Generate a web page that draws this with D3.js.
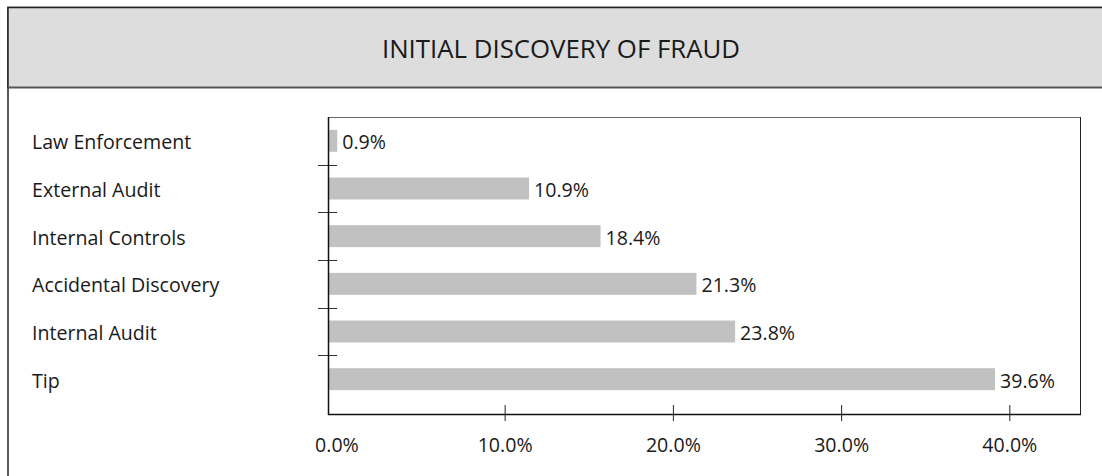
<!DOCTYPE html>
<html>
<head>
<meta charset="utf-8">
<script src="https://cdn.jsdelivr.net/npm/d3@7"></script>
<style>
  body { margin: 0; background: #fff; }
  svg { display: block; font-family: "Open Sans", sans-serif; }
</style>
</head>
<body>
<svg id="chart" width="1102" height="476"></svg>
<script>
// categories, top to bottom
var categories = ["Law Enforcement", "External Audit", "Internal Controls", "Accidental Discovery", "Internal Audit", "Tip"];
// bar lengths as drawn against the axis
var barValues = [0.05, 11.45, 15.7, 21.4, 23.7, 39.15];
// value labels printed beside the bars
var valueLabels = ["0.9%", "10.9%", "18.4%", "21.3%", "23.8%", "39.6%"];
var xTicks = [0, 10, 20, 30, 40];
var title = "INITIAL DISCOVERY OF FRAUD";

var svg = d3.select("#chart");
var plot = {left: 328, right: 1080, top: 117, bottom: 414};
var fs = 19.6;

// outer frame + header
svg.append("rect")
	.attr("x", 8).attr("y", 7.5)
	.attr("width", 1106).attr("height", 480)
	.attr("fill", "#fff").attr("stroke", "#222").attr("stroke-width", 1.5);
svg.append("rect")
	.attr("x", 8).attr("y", 7.5)
	.attr("width", 1106).attr("height", 80)
	.attr("fill", "#dcdddc").attr("stroke", "#222").attr("stroke-width", 1.5);
svg.append("line")
	.attr("x1", 8).attr("x2", 1102).attr("y1", 87.5).attr("y2", 87.5)
	.attr("stroke", "#555").attr("stroke-width", 1.5);
svg.append("text")
	.attr("x", 561).attr("y", 48)
	.attr("text-anchor", "middle").attr("dominant-baseline", "central")
	.attr("font-size", 25.8).attr("fill", "#1a1a1a")
	.text(title);

var x = d3.scaleLinear()
	.domain([-0.5, 44.2])
	.range([plot.left, plot.right]);

var y = d3.scaleBand()
	.domain(categories)
	.range([plot.top, 403])
	.paddingInner(0.54)
	.paddingOuter(0.27);

var g = svg.append("g");

// plot frame: top grey, right black
g.append("line")
	.attr("x1", plot.left).attr("x2", plot.right)
	.attr("y1", plot.top + 0.5).attr("y2", plot.top + 0.5)
	.attr("stroke", "#666");
g.append("line")
	.attr("x1", plot.right + 0.5).attr("x2", plot.right + 0.5)
	.attr("y1", plot.top).attr("y2", plot.bottom)
	.attr("stroke", "#222");

// bars
g.selectAll("rect.bar")
	.data(categories)
	.enter().append("rect")
		.attr("class", "bar")
		.attr("x", x(-0.5))
		.attr("y", function(d){ return y(d); })
		.attr("width", function(d, i){ return x(barValues[i]) - x(-0.5); })
		.attr("height", y.bandwidth())
		.attr("fill", "#c0c1c0");

// value labels
g.selectAll("text.val")
	.data(categories)
	.enter().append("text")
		.attr("class", "val")
		.attr("x", function(d, i){ return x(barValues[i]) + 5; })
		.attr("y", function(d){ return y(d) + y.bandwidth() / 2 + 1; })
		.attr("dominant-baseline", "central")
		.attr("font-size", fs).attr("fill", "#1a1a1a")
		.text(function(d, i){ return valueLabels[i]; });

// category labels
g.selectAll("text.cat")
	.data(categories)
	.enter().append("text")
		.attr("class", "cat")
		.attr("x", 32)
		.attr("y", function(d){ return y(d) + y.bandwidth() / 2 + 1; })
		.attr("dominant-baseline", "central")
		.attr("font-size", fs).attr("fill", "#1a1a1a")
		.text(function(d){ return d; });

// y ticks between categories, crossing the axis
var gap = y.step() * y.paddingInner() / 2;
g.selectAll("line.ytick")
	.data(categories.slice(1))
	.enter().append("line")
		.attr("class", "ytick")
		.attr("x1", plot.left - 10).attr("x2", plot.left + 9)
		.attr("y1", function(d){ return Math.round(y(d) - gap) + 0.5; })
		.attr("y2", function(d){ return Math.round(y(d) - gap) + 0.5; })
		.attr("stroke", "#333");

// x axis
var xAxis = d3.axisBottom(x)
	.tickValues(xTicks)
	.tickSize(0)
	.tickPadding(0)
	.tickFormat(function(d){ return d3.format(".1f")(d) + "%"; });

var ax = g.append("g")
	.attr("transform", "translate(0," + plot.bottom + ")")
	.call(xAxis);
ax.select(".domain").remove();
ax.selectAll("text")
	.attr("y", 30)
	.attr("dy", null)
	.attr("dominant-baseline", "central")
	.attr("font-size", fs)
	.attr("font-family", "Open Sans, sans-serif")
	.attr("fill", "#1a1a1a");
ax.selectAll(".tick").filter(function(d){ return d === 0; }).select("line").remove();
ax.selectAll(".tick line")
	.attr("y1", -9).attr("y2", 7)
	.attr("stroke", "#222");

// axis lines
g.append("line")
	.attr("x1", plot.left).attr("x2", plot.right + 1)
	.attr("y1", plot.bottom + 0.5).attr("y2", plot.bottom + 0.5)
	.attr("stroke", "#111").attr("stroke-width", 1.5);
g.append("line")
	.attr("x1", plot.left + 0.5).attr("x2", plot.left + 0.5)
	.attr("y1", plot.top).attr("y2", plot.bottom + 1)
	.attr("stroke", "#111").attr("stroke-width", 1.5);
</script>
</body>
</html>
